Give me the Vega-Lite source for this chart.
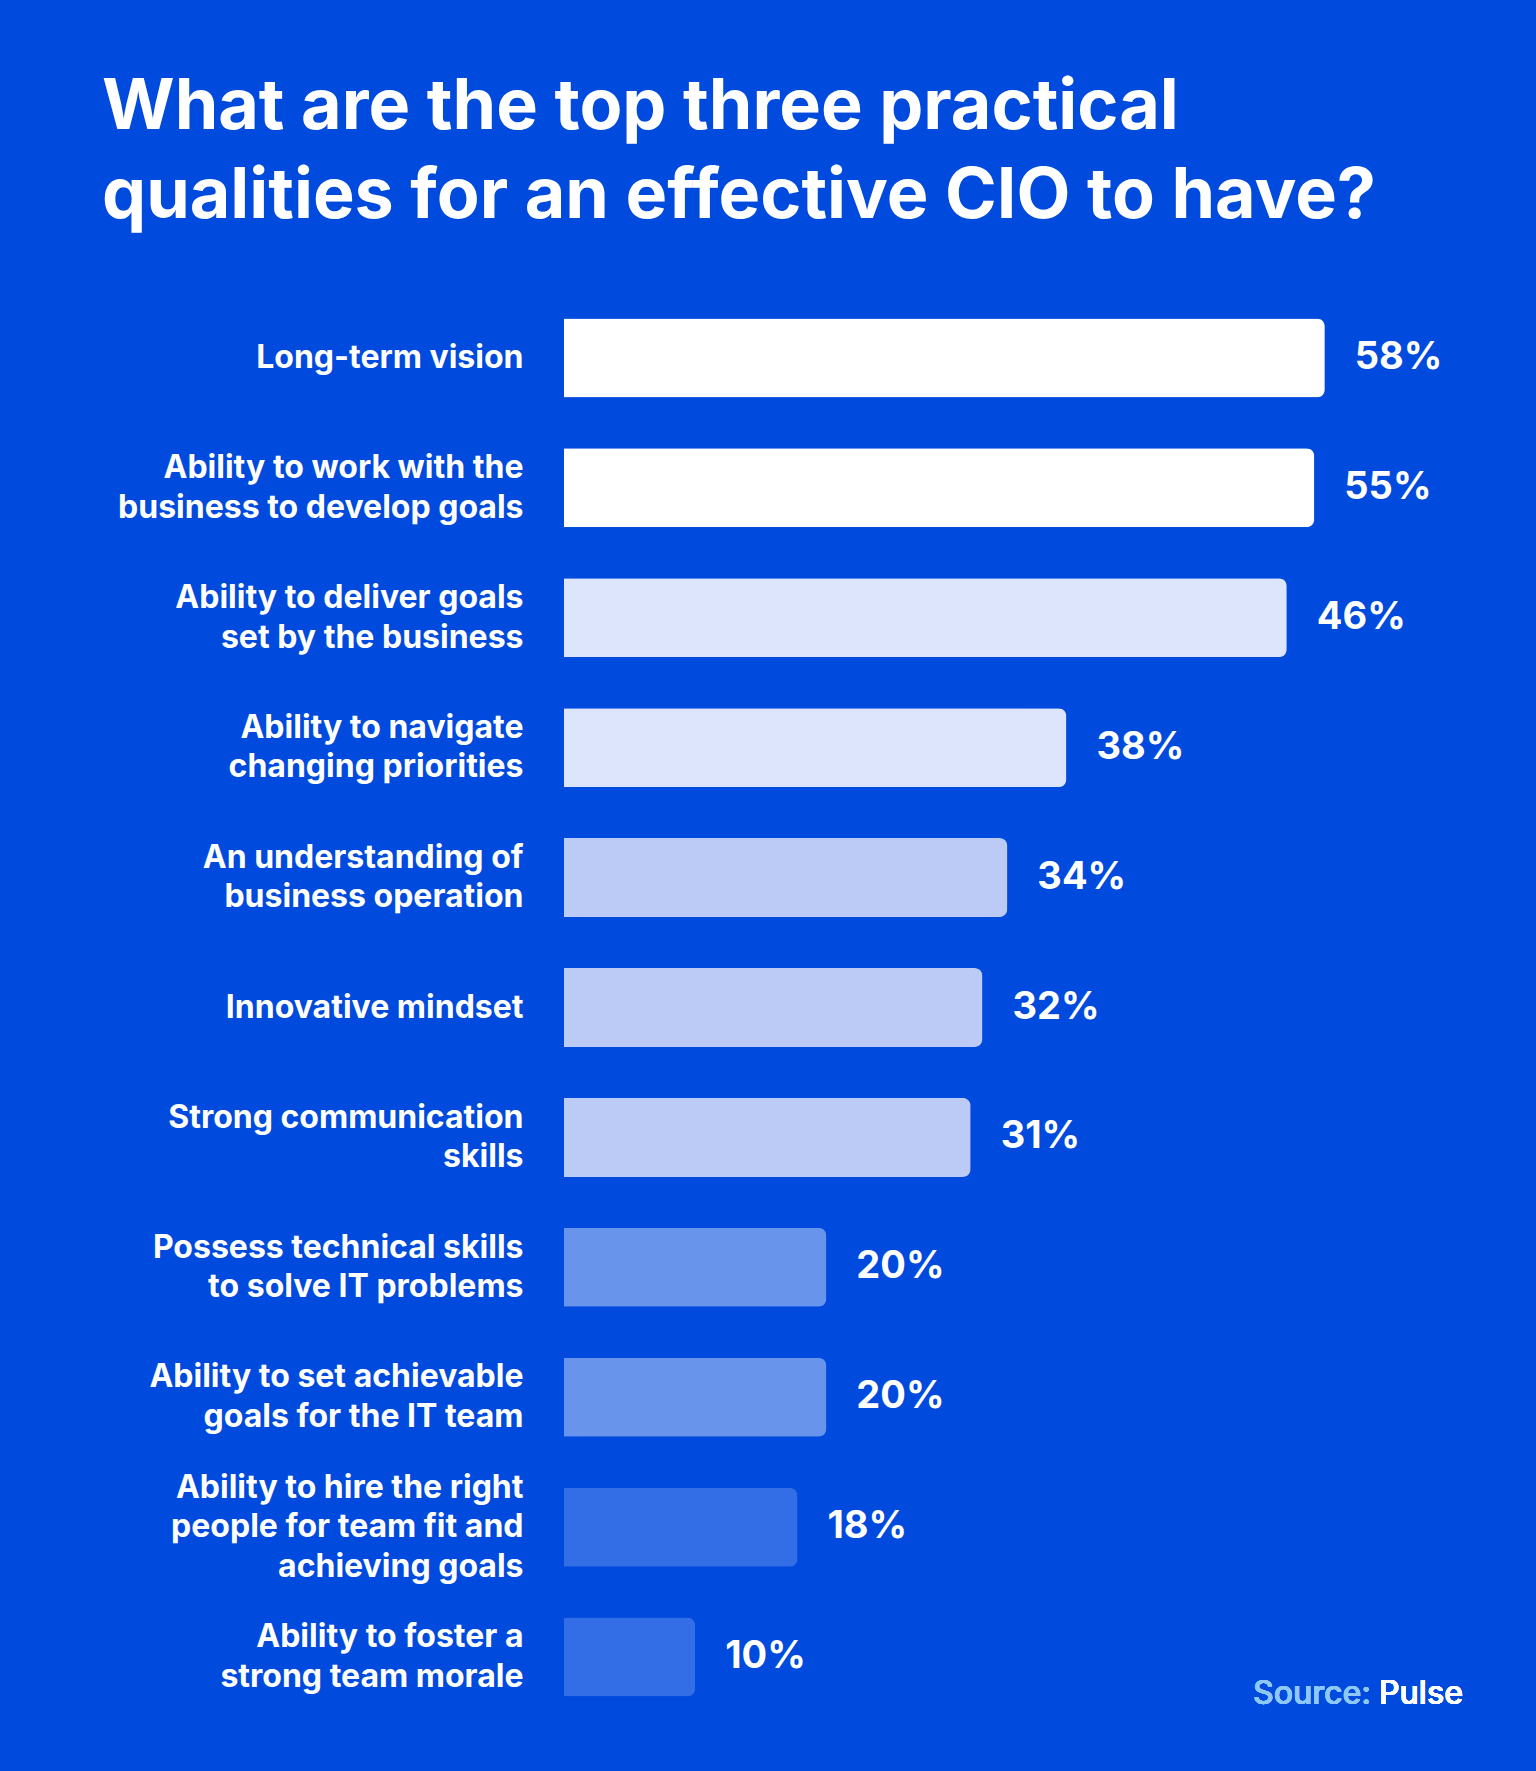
{
  "$schema": "https://vega.github.io/schema/vega-lite/v6.json",
  "autosize": {"type": "none"},
  "width": 972,
  "height": 1429,
  "padding": {"left": 564, "top": 293, "right": 0, "bottom": 49},
  "background": "#004ADE",
  "config": {
    "view": {"stroke": null},
    "font": "Inter"
  },
  "title": {
    "text": ["What are the top three practical", "qualities for an effective CIO to have?"],
    "anchor": "start",
    "frame": "group",
    "dx": -462,
    "offset": 60,
    "font": "Inter",
    "fontSize": 70,
    "fontWeight": 700,
    "color": "#FFFFFF",
    "lineHeight": 89
  },
  "data": {
    "values": [
      {"quality": "Long-term vision", "share": 0.58, "drawn": 0.58},
      {"quality": "Ability to work with the|business to develop goals", "share": 0.55, "drawn": 0.572},
      {"quality": "Ability to deliver goals|set by the business", "share": 0.46, "drawn": 0.551},
      {"quality": "Ability to navigate|changing priorities", "share": 0.38, "drawn": 0.383},
      {"quality": "An understanding of|business operation", "share": 0.34, "drawn": 0.338},
      {"quality": "Innovative mindset", "share": 0.32, "drawn": 0.319},
      {"quality": "Strong communication|skills", "share": 0.31, "drawn": 0.31},
      {"quality": "Possess technical skills|to solve IT problems", "share": 0.20, "drawn": 0.2},
      {"quality": "Ability to set achievable|goals for the IT team", "share": 0.20, "drawn": 0.2},
      {"quality": "Ability to hire the right|people for team fit and|achieving goals", "share": 0.18, "drawn": 0.178},
      {"quality": "Ability to foster a|strong team morale", "share": 0.10, "drawn": 0.1}
    ]
  },
  "encoding": {
    "y": {
      "field": "quality",
      "type": "nominal",
      "sort": null,
      "scale": {"paddingInner": 0.392, "paddingOuter": 0.196},
      "axis": {
        "title": null,
        "domain": false,
        "ticks": false,
        "labelPadding": 41,
        "labelExpr": "split(datum.label, '|')",
        "labelFont": "Inter",
        "labelFontSize": 32,
        "labelFontWeight": 700,
        "labelColor": "#FFFFFF",
        "labelLineHeight": 39.5,
        "labelLimit": 600,
        "labelOffset": {
          "condition": [
            {"test": "length(split(datum.value, '|')) == 3", "value": -39.5},
            {"test": "length(split(datum.value, '|')) == 2", "value": -19.75}
          ],
          "value": 0
        }
      }
    },
    "x": {
      "field": "drawn",
      "type": "quantitative",
      "scale": {"domain": [0, 0.741], "nice": false},
      "axis": null
    }
  },
  "layer": [
    {
      "mark": {"type": "bar", "cornerRadiusEnd": 8},
      "encoding": {
        "color": {
          "field": "share",
          "type": "quantitative",
          "scale": {
            "type": "threshold",
            "domain": [0.19, 0.25, 0.36, 0.5],
            "range": ["#346EE6", "#6895EB", "#BBCBF5", "#DDE5FC", "#FFFFFF"]
          },
          "legend": null
        }
      }
    },
    {
      "mark": {
        "type": "text",
        "align": "left",
        "baseline": "middle",
        "dx": 30,
        "font": "Inter",
        "fontSize": 38,
        "fontWeight": 700,
        "color": "#FFFFFF"
      },
      "encoding": {
        "text": {"field": "share", "type": "quantitative", "format": ".0%"}
      }
    },
    {
      "mark": {
        "type": "text",
        "align": "right",
        "baseline": "middle",
        "yOffset": 37,
        "dx": -4,
        "font": "Inter",
        "fontSize": 32,
        "fontWeight": 500,
        "color": "#8DC8F7"
      },
      "encoding": {
        "x": {"datum": 0.6183},
        "y": {"datum": "Ability to foster a|strong team morale"},
        "text": {"value": "Source:"}
      }
    },
    {
      "mark": {
        "type": "text",
        "align": "left",
        "baseline": "middle",
        "yOffset": 37,
        "dx": 4,
        "font": "Inter",
        "fontSize": 32,
        "fontWeight": 500,
        "color": "#FFFFFF"
      },
      "encoding": {
        "x": {"datum": 0.6183},
        "y": {"datum": "Ability to foster a|strong team morale"},
        "text": {"value": "Pulse"}
      }
    }
  ]
}
